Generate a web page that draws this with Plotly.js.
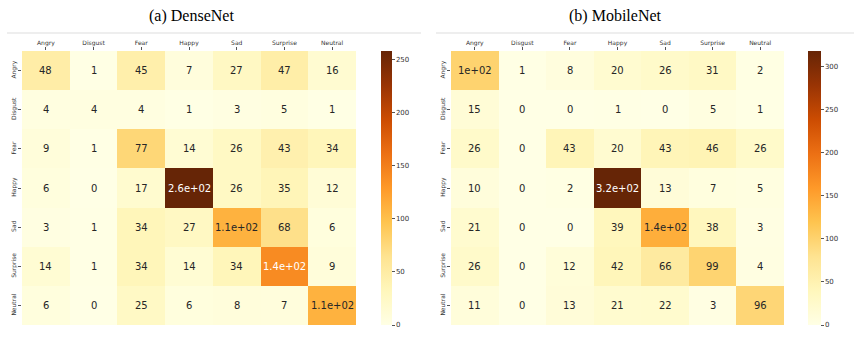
<!DOCTYPE html>
<html>
<head>
<meta charset="utf-8">
<script src="https://cdn.plot.ly/plotly-3.0.1.min.js"></script>
<style>html,body{margin:0;padding:0;background:#fff;}#chart{width:854px;height:349px;}</style>
</head>
<body>
<div id="chart"></div>
<script>
const labels = ['Angry', 'Disgust', 'Fear', 'Happy', 'Sad', 'Surprise', 'Neutral'];

const denseNet = [
  [48, 1, 45, 7, 27, 47, 16],
  [4, 4, 4, 1, 3, 5, 1],
  [9, 1, 77, 14, 26, 43, 34],
  [6, 0, 17, 258, 26, 35, 12],
  [3, 1, 34, 27, 110, 68, 6],
  [14, 1, 34, 14, 34, 140, 9],
  [6, 0, 25, 6, 8, 7, 110]
];

const mobileNet = [
  [100, 1, 8, 20, 26, 31, 2],
  [15, 0, 0, 1, 0, 5, 1],
  [26, 0, 43, 20, 43, 46, 26],
  [10, 0, 2, 318, 13, 7, 5],
  [21, 0, 0, 39, 140, 38, 3],
  [26, 0, 12, 42, 66, 99, 4],
  [11, 0, 13, 21, 22, 3, 96]
];

const panelTitles = ['(a) DenseNet', '(b) MobileNet'];

const ylorbr = ['#ffffe5', '#fff7bc', '#fee391', '#fec44f', '#fe9929', '#ec7014', '#cc4c02', '#993404', '#662506'];
const colorscale = ylorbr.map((c, i) => [i / (ylorbr.length - 1), c]);

function hexToRgb(h) {
  return [parseInt(h.slice(1, 3), 16), parseInt(h.slice(3, 5), 16), parseInt(h.slice(5, 7), 16)];
}
function colorAt(t) {
  t = Math.max(0, Math.min(1, t));
  const n = ylorbr.length - 1;
  const p = t * n;
  const i = Math.min(Math.floor(p), n - 1);
  const f = p - i;
  const a = hexToRgb(ylorbr[i]), b = hexToRgb(ylorbr[i + 1]);
  return a.map((v, k) => v + (b[k] - v) * f);
}
function relLum(rgb) {
  const c = rgb.map(v => {
    v = v / 255;
    return v <= 0.03928 ? v / 12.92 : Math.pow((v + 0.055) / 1.055, 2.4);
  });
  return 0.2126 * c[0] + 0.7152 * c[1] + 0.0722 * c[2];
}
function fmt(v) {
  if (v === 0) return '0';
  const e = Math.floor(Math.log10(Math.abs(v)));
  if (e >= 2) {
    let s = v.toExponential(1);
    let [m, ex] = s.split('e');
    m = m.replace(/\.0$/, '');
    const sign = ex[0];
    let digits = ex.slice(1);
    if (digits.length < 2) digits = '0' + digits;
    return m + 'e' + sign + digits;
  }
  return String(v);
}

const matrices = [denseNet, mobileNet];
const xDomains = [[22 / 854, 356 / 854], [451 / 854, 784 / 854]];
const yDomain = [1 - 325 / 349, 1 - 51 / 349];
const cbX = [381 / 854, 808 / 854];
const cbThick = [11, 13];
const cbDtick = [50, 50];

const traces = [];
const annotations = [];
const layout = {
  width: 854, height: 349,
  margin: {l: 0, r: 0, t: 0, b: 0},
  paper_bgcolor: '#ffffff',
  plot_bgcolor: '#ffffff',
  showlegend: false,
  font: {family: 'DejaVu Sans', color: '#333333'},
  shapes: [
    {type: 'line', xref: 'paper', yref: 'paper', x0: 7 / 854, x1: 421 / 854, y0: 1 - 33 / 349, y1: 1 - 33 / 349, line: {color: '#dddddd', width: 1}},
    {type: 'line', xref: 'paper', yref: 'paper', x0: 436 / 854, x1: 1, y0: 1 - 33 / 349, y1: 1 - 33 / 349, line: {color: '#dddddd', width: 1}}
  ]
};

matrices.forEach((m, k) => {
  const zmax = Math.max(...m.flat());
  const xa = k === 0 ? 'x' : 'x2';
  const ya = k === 0 ? 'y' : 'y2';
  traces.push({
    type: 'heatmap',
    z: m, x: labels, y: labels,
    xaxis: xa, yaxis: ya,
    zmin: 0, zmax: zmax,
    colorscale: colorscale,
    xgap: 0, ygap: 0,
    hoverinfo: 'skip',
    colorbar: {
      x: cbX[k], xanchor: 'left', xpad: 0,
      y: yDomain[1], yanchor: 'top', ypad: 0,
      len: yDomain[1] - yDomain[0], lenmode: 'fraction',
      thickness: cbThick[k], thicknessmode: 'pixels',
      outlinewidth: 0,
      tickmode: 'linear', tick0: 0, dtick: cbDtick[k],
      ticks: 'outside', ticklen: 3, tickcolor: '#555555', tickwidth: 1,
      tickfont: {family: 'DejaVu Sans', size: 7, color: '#333333'}
    }
  });
  const axKeyX = k === 0 ? 'xaxis' : 'xaxis2';
  const axKeyY = k === 0 ? 'yaxis' : 'yaxis2';
  layout[axKeyX] = {
    domain: xDomains[k], anchor: ya, side: 'top',
    type: 'category', categoryorder: 'array', categoryarray: labels,
    showgrid: false, zeroline: false, showline: false,
    ticks: 'outside', ticklen: 3, tickcolor: '#555555', tickwidth: 1,
    tickfont: {family: 'DejaVu Sans', size: 6, color: '#333333'},
    tickangle: 0, fixedrange: true
  };
  layout[axKeyY] = {
    domain: yDomain, anchor: xa,
    type: 'category', categoryorder: 'array', categoryarray: labels,
    autorange: 'reversed',
    showgrid: false, zeroline: false, showline: false,
    ticks: 'outside', ticklen: 3, tickcolor: '#555555', tickwidth: 1,
    tickfont: {family: 'DejaVu Sans', size: 6, color: '#333333'},
    tickangle: -90, fixedrange: true
  };
  m.forEach((row, i) => {
    row.forEach((v, j) => {
      const lum = relLum(colorAt(v / zmax));
      annotations.push({
        x: labels[j], y: labels[i], xref: xa, yref: ya,
        text: fmt(v), showarrow: false,
        font: {family: 'DejaVu Sans', size: 10, color: lum > 0.408 ? '#262626' : '#ffffff'}
      });
    });
  });
  annotations.push({
    x: (k === 0 ? 191 : 615) / 854, y: 1 - 16 / 349,
    xref: 'paper', yref: 'paper', xanchor: 'center', yanchor: 'middle',
    text: panelTitles[k], showarrow: false,
    font: {family: 'Liberation Serif', size: 16, color: '#000000'}
  });
});

layout.annotations = annotations;

Plotly.newPlot('chart', traces, layout, {displayModeBar: false, staticPlot: true});
</script>
</body>
</html>
